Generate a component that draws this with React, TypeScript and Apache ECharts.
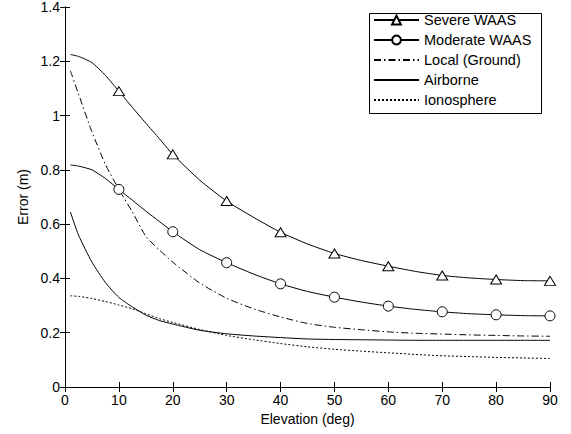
import React, { useEffect, useRef } from "react";
import * as echarts from "echarts";

const elevation = [1, 2.5, 5, 7.5, 10, 12.5, 15, 17.5, 20, 25, 30, 35, 40, 45, 50, 55, 60, 65, 70, 75, 80, 85, 90];
const markerElevations = [10, 20, 30, 40, 50, 60, 70, 80, 90];

const severeWAAS = [1.225, 1.218, 1.195, 1.148, 1.09, 1.03, 0.972, 0.915, 0.857, 0.762, 0.685, 0.625, 0.57, 0.527, 0.492, 0.466, 0.445, 0.426, 0.411, 0.402, 0.396, 0.392, 0.391];
const moderateWAAS = [0.818, 0.814, 0.8, 0.768, 0.728, 0.688, 0.648, 0.61, 0.572, 0.506, 0.458, 0.416, 0.38, 0.352, 0.331, 0.313, 0.298, 0.286, 0.277, 0.27, 0.266, 0.263, 0.262];
const localGround = [1.165, 1.08, 0.94, 0.82, 0.728, 0.645, 0.555, 0.505, 0.46, 0.383, 0.327, 0.288, 0.258, 0.234, 0.22, 0.211, 0.203, 0.198, 0.195, 0.192, 0.19, 0.188, 0.187];
const airborne = [0.645, 0.56, 0.46, 0.385, 0.33, 0.295, 0.265, 0.245, 0.232, 0.209, 0.196, 0.188, 0.182, 0.177, 0.175, 0.174, 0.173, 0.172, 0.172, 0.172, 0.172, 0.172, 0.172];
const ionosphere = [0.336, 0.334, 0.326, 0.315, 0.302, 0.288, 0.27, 0.252, 0.238, 0.212, 0.19, 0.174, 0.16, 0.148, 0.139, 0.132, 0.126, 0.12, 0.115, 0.112, 0.109, 0.107, 0.105];

const seriesNames = ["Severe WAAS", "Moderate WAAS", "Local (Ground)", "Airborne", "Ionosphere"];

const FONT = "'Liberation Sans', Arial, sans-serif";

function buildData(values: number[], withMarkers: boolean) {
  return elevation.map((x, i) => {
    const item: any = { value: [x, values[i]] };
    if (!withMarkers || markerElevations.indexOf(x) < 0) item.symbol = "none";
    return item;
  });
}

export default function App() {
  const ref = useRef<HTMLDivElement>(null);
  useEffect(() => {
    if (!ref.current) return;
    const chart = echarts.init(ref.current, null, { renderer: "svg" });
    const axisLine = { show: true, lineStyle: { color: "#000", width: 1 } };
    const tick = { show: true, inside: true, length: 5, lineStyle: { color: "#000" } };
    const label = { color: "#000", fontFamily: FONT, fontSize: 14 };
    const line = (name: string, values: number[], type: any, symbol: string, size: any, markers: boolean) => ({
      name,
      type: "line",
      data: buildData(values, markers),
      symbol,
      symbolSize: size,
      showSymbol: true,
      smooth: 0.2,
      color: "#000",
      lineStyle: { color: "#000", width: 1, type },
      itemStyle: markers
        ? { color: "#fff", borderColor: "#000", borderWidth: 1 }
        : { color: "transparent", borderColor: "transparent", borderWidth: 0, opacity: 0 },
      emphasis: { disabled: true },
      z: 2,
    });
    chart.setOption({
      animation: false,
      backgroundColor: "#fff",
      textStyle: { fontFamily: FONT },
      grid: { left: 65, right: 21, top: 6, bottom: 47 },
      xAxis: [
        {
          type: "value", min: 0, max: 90, interval: 10, position: "bottom",
          name: "Elevation (deg)", nameLocation: "middle", nameGap: 22,
          nameTextStyle: { color: "#000", fontFamily: FONT, fontSize: 14 },
          axisLine, axisTick: tick, axisLabel: { ...label, margin: 6 }, splitLine: { show: false },
        },
        {
          type: "value", min: 0, max: 90, interval: 10, position: "top",
          axisLine, axisTick: tick, axisLabel: { show: false }, splitLine: { show: false },
        },
      ],
      yAxis: [
        {
          type: "value", min: 0, max: 1.4, interval: 0.2, position: "left",
          name: "Error (m)", nameLocation: "middle", nameGap: 33,
          nameTextStyle: { color: "#000", fontFamily: FONT, fontSize: 14 },
          axisLine, axisTick: tick, axisLabel: { ...label, margin: 5 }, splitLine: { show: false },
        },
        {
          type: "value", min: 0, max: 1.4, interval: 0.2, position: "right",
          axisLine, axisTick: tick, axisLabel: { show: false }, splitLine: { show: false },
        },
      ],
      legend: {
        data: seriesNames,
        orient: "vertical",
        left: 373,
        top: 12.5,
        itemWidth: 45,
        itemHeight: 11,
        itemGap: 5,
        padding: 0,
        z: 20,
        selectedMode: false,
        textStyle: { color: "#000", fontFamily: FONT, fontSize: 14.5 },
      },
      graphic: [
        {
          type: "rect",
          z: 10,
          shape: { x: 369.5, y: 13.5, width: 172, height: 100 },
          style: { fill: "#fff", stroke: "#000", lineWidth: 1 },
        },
      ],
      series: [
        line(seriesNames[0], severeWAAS, "solid", "triangle", [11, 9], true),
        line(seriesNames[1], moderateWAAS, "solid", "circle", 10, true),
        line(seriesNames[2], localGround, [7, 3, 1.5, 3], "none", 0, false),
        line(seriesNames[3], airborne, "solid", "none", 0, false),
        line(seriesNames[4], ionosphere, [2, 2], "none", 0, false),
      ],
    });
    return () => chart.dispose();
  }, []);
  return <div ref={ref} style={{ position: "absolute", left: 0, top: 0, width: 571, height: 434 }} />;
}
